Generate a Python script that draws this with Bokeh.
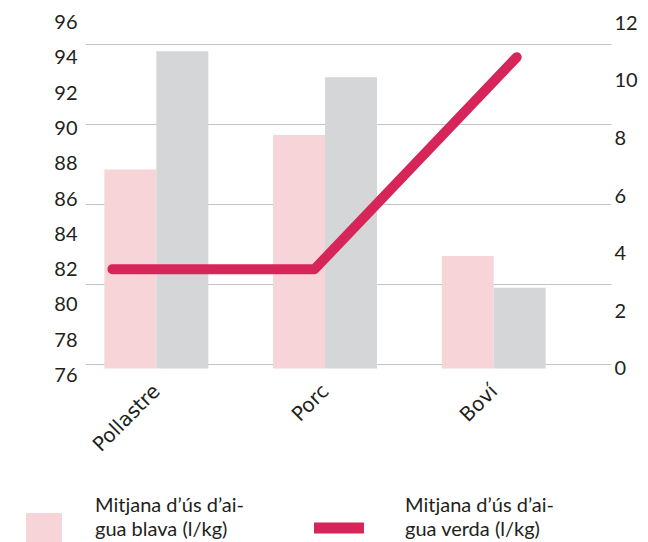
import math
from bokeh.plotting import figure
from bokeh.models import (Range1d, LinearAxis, FixedTicker, Grid, Legend,
                          LegendItem, ColumnDataSource)
from bokeh.transform import dodge
from bokeh.embed import file_html
from bokeh.resources import INLINE

# ---- data ----
categories = ["Pollastre", "Porc", "Boví"]
aigua_blava = [6.9, 8.1, 3.9]      # pink bars, right axis
aigua_grisa = [11.0, 10.1, 2.8]    # grey bars, right axis
aigua_verda = [82, 82, 94]         # red line, left axis
left_ticks = [76, 78, 80, 82, 84, 86, 88, 90, 92, 94, 96]
right_ticks = [0, 2, 4, 6, 8, 10, 12]
grid_levels = [0, 1, 2, 3, 4]
label_blava = "Mitjana d’ús d’ai-\ngua blava (l/kg)"
label_verda = "Mitjana d’ús d’ai-\ngua verda (l/kg)"

PINK = "#f6d4d8"
GREY = "#d5d6d8"
RED = "#d62558"
TXT = "#231f20"

idx = list(range(len(categories)))
src = ColumnDataSource(dict(idx=idx, blava=aigua_blava, grisa=aigua_grisa,
                            verda=aigua_verda))

p = figure(width=640, height=480,
           x_range=Range1d(-0.420, 2.698), y_range=Range1d(75.98, 96.02),
           output_backend="svg", toolbar_location=None,
           min_border_left=85, min_border_right=28,
           min_border_top=21, min_border_bottom=105)
p.outline_line_color = None
p.xgrid.visible = False
p.ygrid.visible = False

p.extra_y_ranges = {"right": Range1d(-0.243, 12.035),
                    "g": Range1d(-0.1375, 4.2875)}
p.extra_x_ranges = {"line": Range1d(-0.1333, 2.469)}

grid = Grid(dimension=1, ticker=FixedTicker(ticks=grid_levels), y_range_name="g",
            grid_line_color="#c4c4c4", grid_line_width=1.2)
p.add_layout(grid)

# bars
r_blava = p.vbar(x=dodge("idx", -0.154, range=p.x_range), top="blava", bottom=0,
                 width=0.308, source=src, y_range_name="right",
                 fill_color=PINK, line_color=None)
r_grisa = p.vbar(x=dodge("idx", 0.154, range=p.x_range), top="grisa", bottom=0,
                 width=0.308, source=src, y_range_name="right",
                 fill_color=GREY, line_color=None)
# line
r_verda = p.line(x="idx", y="verda", source=src, x_range_name="line",
                 line_color=RED, line_width=10, line_cap="round", line_join="round")

# axes
def style_axis(ax, size="20px", font="Lato"):
    ax.axis_line_color = None
    ax.major_tick_line_color = None
    ax.minor_tick_line_color = None
    ax.major_tick_out = 0
    ax.major_tick_in = 0
    ax.major_label_text_font = font
    ax.major_label_text_font_size = size
    ax.major_label_text_color = TXT

yl = p.yaxis[0]
yl.ticker = FixedTicker(ticks=left_ticks)
style_axis(yl)
yl.major_label_standoff = 8

yr = LinearAxis(y_range_name="right", ticker=FixedTicker(ticks=right_ticks))
style_axis(yr)
yr.major_label_standoff = 3
p.add_layout(yr, "right")

xa = p.xaxis[0]
xa.ticker = FixedTicker(ticks=idx)
xa.major_label_overrides = {i: c for i, c in zip(idx, categories)}
style_axis(xa, size="20px", font="DejaVu Sans")
xa.major_label_orientation = math.pi / 4
xa.major_label_standoff = 12

# ---- legend strip below the chart (separate root, no frame alignment) ----
lf = figure(width=640, height=62, x_range=Range1d(0, 1), y_range=Range1d(0, 1),
            output_backend="svg", toolbar_location=None,
            min_border=0, min_border_left=0, min_border_right=0,
            min_border_top=0, min_border_bottom=0,
            x_axis_location=None, y_axis_location=None)
lf.outline_line_color = None
lf.xgrid.visible = False
lf.ygrid.visible = False
proxy_src = ColumnDataSource(dict(x=[float("nan")], y=[float("nan")]))
l_blava = lf.vbar(x="x", top="y", width=0.1, source=proxy_src,
                  fill_color=PINK, line_color=None)
l_verda = lf.line(x="x", y="y", source=proxy_src, line_color=RED, line_width=11,
                  line_cap="round")

def make_legend(label, rend, loc, gw, gh, standoff):
    return Legend(items=[LegendItem(label=label, renderers=[rend])],
                  location=loc, glyph_width=gw, glyph_height=gh,
                  label_standoff=standoff, padding=0, margin=0,
                  border_line_color=None, background_fill_alpha=0,
                  label_text_font="Lato", label_text_font_size="20px",
                  label_text_color=TXT, label_text_line_height=1.25)

# glyph keys
lf.add_layout(make_legend(" ", l_blava, (21, -11), 45, 45, 0))
lf.add_layout(make_legend(" ", l_verda, (314, -8), 50, 45, 0))
# key texts
lf.add_layout(make_legend(label_blava, l_blava, (95, 2), 0, 20, 0))
lf.add_layout(make_legend(label_verda, l_blava, (405, 2), 0, 20, 0))

open("out.html", "w").write(file_html([p, lf], INLINE))
